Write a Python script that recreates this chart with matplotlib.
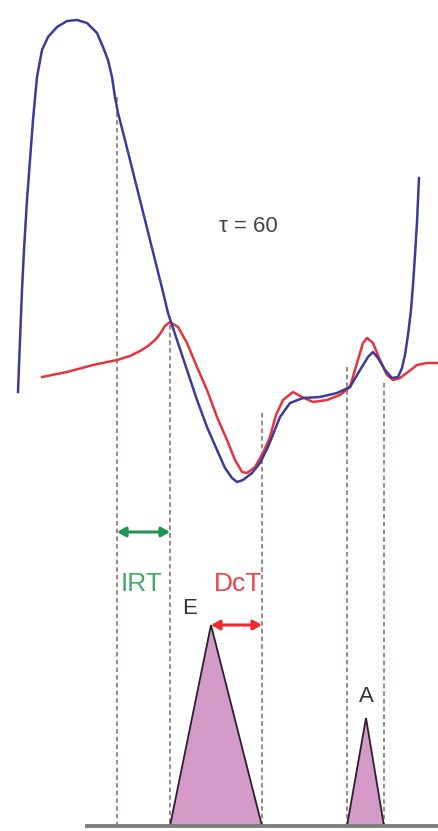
import matplotlib
matplotlib.use("Agg")
import matplotlib.pyplot as plt
from matplotlib.patches import Polygon

# LV pressure trace (blue) (x, y in picture units, y down)
lvp_x = [18, 20, 22, 24, 27, 30, 33, 37, 42, 48, 57, 67, 77, 87, 97, 103,
         108, 112, 115, 118, 125, 135, 145, 155, 163, 168, 177, 187, 197,
         207, 217, 225, 232, 237, 243, 252, 260, 268, 280, 290, 303, 320,
         337, 350, 360, 368, 373, 378, 385, 392, 398, 402, 405, 408, 411,
         413, 415, 417, 419]
lvp_y = [392, 340, 290, 250, 200, 160, 120, 77, 50, 37, 27, 21, 20, 23, 33, 47,
         60, 77, 97, 113, 140, 180, 220, 260, 292, 313, 340, 370, 400,
         427, 450, 468, 478, 482, 480, 473, 463, 447, 417, 403, 398, 397,
         393, 387, 370, 357, 352, 358, 370, 378, 377, 368, 355, 335, 310,
         285, 255, 222, 178]

# LA / mitral trace (red)
mv_x = [42, 67, 93, 117, 130, 140, 148, 155, 160, 165, 170, 178, 187, 197,
        207, 217, 227, 235, 242, 247, 255, 263, 270, 276, 283, 293, 302,
        313, 327, 340, 350, 357, 363, 367, 373, 380, 387, 393, 400, 408,
        417, 427, 438]
mv_y = [377, 372, 365, 360, 356, 351, 346, 340, 334, 326, 322, 327, 343, 367,
        390, 417, 440, 460, 472, 473, 467, 453, 437, 415, 400, 392, 397,
        402, 400, 395, 387, 363, 343, 338, 343, 360, 375, 380, 378, 372,
        365, 363, 363]

# vertical dotted markers: x position and top end
mark_x = [117, 170, 262, 347, 384]
mark_top = [97, 325, 413, 367, 383]
base_y = 826

# E and A waves (start, peak, end, peak height)
wave_names = ["E", "A"]
wave_start = [170, 347]
wave_peak = [211, 366]
wave_end = [262, 384]
wave_top = [625, 718]

irt = (117, 170, 532)
dct = (211, 262, 625)

fig = plt.figure(figsize=(4.38, 8.31), dpi=100)
ax = fig.add_axes([0, 0, 1, 1])
ax.set_xlim(0, 438)
ax.set_ylim(831, 0)
ax.axis("off")

for x, top in zip(mark_x, mark_top):
    ax.plot([x, x], [top, base_y], color="#9c8f80", lw=1.5,
            linestyle=(0, (2.2, 1.5)), zorder=1)

for s, p, e, t in zip(wave_start, wave_peak, wave_end, wave_top):
    tri = Polygon([(s, base_y), (p, t), (e, base_y)], closed=True,
                  facecolor="#d59bc8", edgecolor="#2a2030", lw=1.3, zorder=2)
    ax.add_patch(tri)

ax.plot([85, 438], [base_y, base_y], color="#7d7d7d", lw=2.8,
        solid_capstyle="butt", zorder=3)

ax.plot(mv_x, mv_y, color="#e8333b", lw=1.8, zorder=4)
ax.plot(lvp_x, lvp_y, color="#3b3c95", lw=1.8, zorder=5)

ax.annotate("", xy=(irt[0], irt[2]), xytext=(irt[1], irt[2]),
            arrowprops=dict(arrowstyle="<|-|>,head_length=0.5,head_width=0.28",
                            color="#1e9650", lw=2.2, shrinkA=0, shrinkB=0))
ax.annotate("", xy=(dct[0], dct[2]), xytext=(dct[1], dct[2]),
            arrowprops=dict(arrowstyle="<|-|>,head_length=0.5,head_width=0.28",
                            color="#ec2a30", lw=2.2, shrinkA=0, shrinkB=0))

font = ["Liberation Sans", "DejaVu Sans"]
ax.text(142, 584, "IRT", color="#45a86c", fontsize=19, family=font,
        ha="center", va="center")
ax.text(238, 584, "DcT", color="#ee4248", fontsize=19, family=font,
        ha="center", va="center")
ax.text(190, 608, wave_names[0], color="#333333", fontsize=16, family=font,
        ha="center", va="center")
ax.text(366, 697, wave_names[1], color="#333333", fontsize=16, family=font,
        ha="center", va="center")
ax.text(248, 227, "τ = 60", color="#444444", fontsize=16, family=font,
        ha="center", va="center")

fig.savefig("out.png", dpi=100)
